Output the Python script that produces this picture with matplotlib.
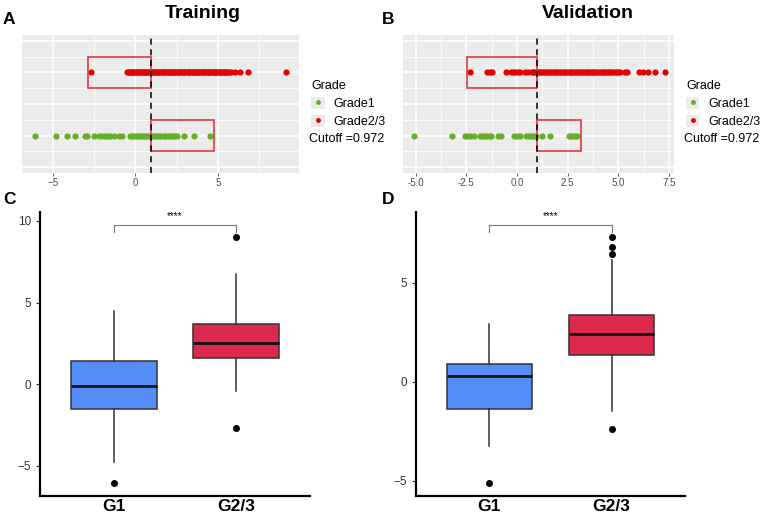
import numpy as np
import matplotlib
matplotlib.use("Agg")
import matplotlib.pyplot as plt
from matplotlib.patches import Rectangle, Patch
from matplotlib.lines import Line2D
from matplotlib.legend_handler import HandlerTuple

plt.rcParams['font.family'] = ['Liberation Sans', 'DejaVu Sans']

# ---- data ----
cutoff = 0.972

# training strip values
train_g1 = [-6.09, -4.78, -4.14, -3.67, -3.07, -2.93, -2.52, -2.22, -2.02, -1.81, -1.66,
            -1.51, -1.31, -0.97, -0.81, -0.30, -0.17, -0.06, 0.09, 0.2, 0.34, 0.44, 0.58,
            0.69, 0.83, 0.95, 1.06, 1.21, 1.31, 1.46, 1.57, 1.71, 1.82, 1.96, 2.07, 2.21,
            2.36, 2.52, 2.96, 3.53, 4.54]
train_g23 = [-2.67, -0.51, -0.41, -0.36, -0.27, -0.2, -0.11, -0.05, 0.04, 0.1, 0.19, 0.24,
             0.32, 0.4, 0.46, 0.56, 0.61, 0.71, 0.77, 0.86, 0.92, 1.01, 1.07, 1.16, 1.21,
             1.31, 1.37, 1.46, 1.51, 1.61, 1.67, 1.76, 1.82, 1.91, 1.97, 2.06, 2.11, 2.21,
             2.27, 2.36, 2.42, 2.51, 2.57, 2.66, 2.71, 2.81, 2.87, 2.96, 3.01, 3.11, 3.17,
             3.26, 3.32, 3.41, 3.47, 3.56, 3.61, 3.71, 3.77, 3.86, 3.92, 4.01, 4.07, 4.16,
             4.21, 4.31, 4.37, 4.46, 4.51, 4.61, 4.67, 4.76, 4.82, 4.91, 4.97, 5.06, 5.11,
             5.21, 5.27, 5.36, 5.41, 5.51, 5.57, 5.66, 5.76, 6.06, 6.36, 6.8, 9.09]

# validation strip values
valid_g1 = [-5.08, -3.19, -2.54, -2.44, -2.33, -2.11, -1.84, -1.67, -1.56, -1.46, -1.34,
            -1.26, -0.93, -0.77, -0.14, -0.02, 0.14, 0.47, 0.58, 0.72, 0.83, 0.96, 1.24,
            1.65, 2.56, 2.66, 2.77, 2.86, 2.97]
valid_g23 = [-2.33, -1.46, -1.34, -1.23, -0.55, -0.31, -0.19, -0.07, 0.06, 0.14, 0.42, 0.55,
             0.72, 0.8, 0.91, 0.98, 1.07, 1.16, 1.24, 1.33, 1.43, 1.5, 1.6, 1.68, 1.77,
             1.87, 1.94, 2.03, 2.13, 2.2, 2.3, 2.39, 2.46, 2.55, 2.66, 2.72, 2.82, 2.91,
             2.99, 3.08, 3.18, 3.25, 3.35, 3.44, 3.51, 3.6, 3.7, 3.77, 3.87, 3.96, 4.04,
             4.13, 4.23, 4.3, 4.4, 4.49, 4.56, 4.65, 4.75, 4.82, 4.92, 5.01, 5.08, 5.32,
             5.44, 6.01, 6.23, 6.48, 6.8, 7.33]

# red rectangles (x ranges) on strip panels
train_box_g23 = [-2.83, cutoff]
train_box_g1 = [cutoff, 4.74]
valid_box_g23 = [-2.46, cutoff]
valid_box_g1 = [cutoff, 3.14]

# boxplot summaries: [whislo, q1, med, q3, whishi], fliers
groups = ['G1', 'G2/3']
train_stats = [[-4.75, -1.49, -0.08, 1.43, 4.5], [-0.39, 1.59, 2.51, 3.68, 6.75]]
train_fliers = [[-6.07], [9.02, -2.66]]
valid_stats = [[-3.22, -1.35, 0.27, 0.89, 2.91], [-1.46, 1.36, 2.39, 3.35, 6.16]]
valid_fliers = [[-5.12], [7.31, 6.8, 6.46, -2.37]]

green = '#66AD2A'
red = '#E00000'
box_red = '#E0393D'
fill_cols = ['#548DF7', '#DC2A4F']

W, H = 762, 514
fig = plt.figure(figsize=(W / 100, H / 100), dpi=100)


def fax(l, t, r, b):
    return fig.add_axes([l / W, 1 - b / H, (r - l) / W, (b - t) / H])


def strip(ax, g1, g23, box1, box23, xlim, major, minor):
    ax.set_facecolor('#EBEBEB')
    for s in ax.spines.values():
        s.set_visible(False)
    ax.set_xlim(*xlim)
    ax.set_ylim(0.41, 2.59)
    for v in minor:
        ax.axvline(v, color='white', lw=0.6, zorder=0)
    for v in major:
        ax.axvline(v, color='white', lw=1.1, zorder=0)
    for v in [0.75, 1.25, 1.75, 2.25]:
        ax.axhline(v, color='white', lw=0.6, zorder=0)
    for v in [0.5, 1, 1.5, 2, 2.5]:
        ax.axhline(v, color='white', lw=1.1, zorder=0)
    ax.scatter(g1, [1] * len(g1), s=20, color=green, lw=0, zorder=3)
    ax.scatter(g23, [2] * len(g23), s=20, color=red, lw=0, zorder=3)
    ax.add_patch(Rectangle((box23[0], 1.75), box23[1] - box23[0], 0.5, fill=False,
                           ec=box_red, lw=1.2, zorder=4))
    ax.add_patch(Rectangle((box1[0], 0.75), box1[1] - box1[0], 0.5, fill=False,
                           ec=box_red, lw=1.2, zorder=4))
    ax.axvline(cutoff, color='black', lw=1.1, ls=(0, (4, 3)), zorder=5)
    ax.set_xticks(major)
    ax.set_yticks([])
    ax.tick_params(axis='x', labelsize=7, colors='#4D4D4D', length=2.5, width=0.6, pad=1)
    h1 = (Patch(facecolor='#EBEBEB'), Line2D([], [], marker='o', ls='', color=green, ms=2.5))
    h2 = (Patch(facecolor='#EBEBEB'), Line2D([], [], marker='o', ls='', color=red, ms=2.5))
    leg = ax.legend([h1, h2], ['Grade1', 'Grade2/3'], title='Grade',
                    handler_map={tuple: HandlerTuple(ndivide=1, pad=0)},
                    loc='upper left', bbox_to_anchor=(1.045, 0.675), frameon=False,
                    fontsize=9, title_fontsize=9, handlelength=1.05, handleheight=1.1,
                    handletextpad=0.7, labelspacing=0.38, borderaxespad=0, borderpad=0)
    leg._legend_box.align = 'left'
    ax.text(1.036, 0.244, 'Cutoff =%.3f' % cutoff, transform=ax.transAxes, fontsize=9,
            ha='left', va='center')


def boxes(ax, stats, fliers, ylim, yticks, bracket_y):
    bs = []
    for i in range(2):
        lo, q1, med, q3, hi = stats[i]
        bs.append(dict(whislo=lo, q1=q1, med=med, q3=q3, whishi=hi, fliers=fliers[i],
                       label=groups[i]))
    bp = ax.bxp(bs, positions=[1, 2], widths=0.7, patch_artist=True, showcaps=False,
                boxprops=dict(ec='#333333', lw=1.1),
                medianprops=dict(color='#111111', lw=2),
                whiskerprops=dict(color='#333333', lw=1.1),
                flierprops=dict(marker='o', mfc='black', mec='black', ms=4))
    for p, c in zip(bp['boxes'], fill_cols):
        p.set_facecolor(c)
    ax.set_xlim(0.4, 2.6)
    ax.set_ylim(*ylim)
    ax.set_yticks(yticks)
    for s in ['top', 'right']:
        ax.spines[s].set_visible(False)
    for s in ['left', 'bottom']:
        ax.spines[s].set_linewidth(1.6)
    ax.tick_params(axis='y', labelsize=8.5, colors='#333333', length=3, width=0.8)
    ax.tick_params(axis='x', length=0, pad=2)
    for lab in ax.get_xticklabels():
        lab.set_fontsize(12.5)
        lab.set_fontweight('bold')
    top, drop = bracket_y
    ax.plot([1, 1, 2, 2], [drop, top, top, drop], color='#777777', lw=0.8, clip_on=False)
    ax.text(1.5, top + (ylim[1] - ylim[0]) * 0.012, '****', ha='center', va='bottom',
            fontsize=7)


axA = fax(22, 35, 299, 173)
strip(axA, train_g1, train_g23, train_box_g1, train_box_g23, (-6.85, 9.9),
      [-5, 0, 5], [-2.5, 2.5, 7.5])
axB = fax(403, 35, 674, 173)
strip(axB, valid_g1, valid_g23, valid_box_g1, valid_box_g23, (-5.62, 7.75),
      [-5.0, -2.5, 0.0, 2.5, 5.0, 7.5], [-3.75, -1.25, 1.25, 3.75, 6.25])
axB.set_xticklabels(['-5.0', '-2.5', '0.0', '2.5', '5.0', '7.5'])

axC = fax(40, 212, 310, 496)
boxes(axC, train_stats, train_fliers, (-6.85, 10.55), [-5, 0, 5, 10], (9.77, 9.3))
axD = fax(416, 212, 685, 496)
boxes(axD, valid_stats, valid_fliers, (-5.76, 8.57), [-5, 0, 5], (7.93, 7.54))

fig.text(203 / W, 1 - 13 / H, 'Training', ha='center', va='center', fontsize=14,
         fontweight='bold')
fig.text(588 / W, 1 - 13 / H, 'Validation', ha='center', va='center', fontsize=14,
         fontweight='bold')
for lab, x, y in [('A', 9, 20), ('B', 388, 20), ('C', 9, 199), ('D', 388, 199)]:
    fig.text(x / W, 1 - y / H, lab, ha='center', va='center', fontsize=12.5,
             fontweight='bold')

fig.savefig('out.png', dpi=100)
